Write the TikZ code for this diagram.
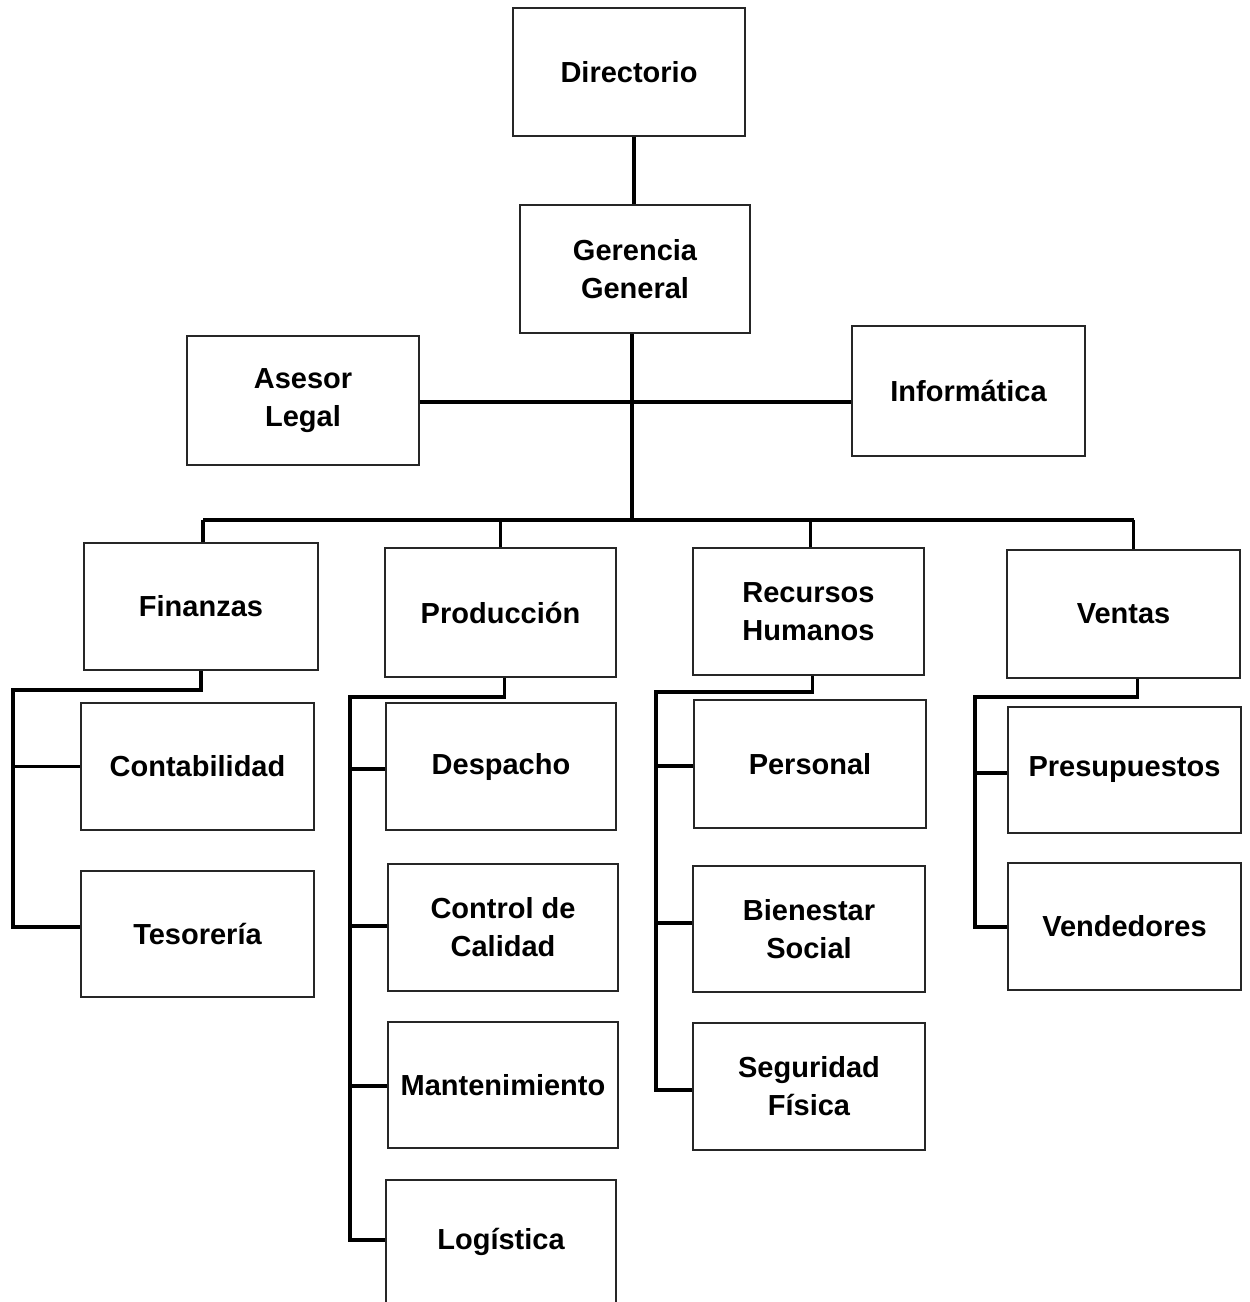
\documentclass[tikz,border=0pt]{standalone}
\usepackage{fontspec}
\setmainfont{Liberation Sans}
\begin{document}
\begin{tikzpicture}[x=1pt,y=-1pt,
  box/.style={draw=black!85, line width=1.6pt, rectangle, align=center,
    font=\fontsize{29}{38}\selectfont\bfseries, inner sep=0pt},
  link/.style={draw=black, line width=3.6pt, line cap=butt, line join=miter}]
\useasboundingbox (0,0) rectangle (1250,1302);
\clip (0,0) rectangle (1250,1302);

% top levels
\node[box, minimum width=232, minimum height=128] (dir) at (629,72) {Directorio};
\node[box, minimum width=230, minimum height=128] (ger) at (635,269) {Gerencia\\General};
\node[box, minimum width=232, minimum height=129] (ase) at (303,400.5) {Asesor\\Legal};
\node[box, minimum width=233, minimum height=130] (inf) at (968.5,391) {Informática};

% departments
\node[box, minimum width=234, minimum height=127] (fin) at (201,606.5) {Finanzas};
\node[box, minimum width=231, minimum height=129] (pro) at (500.5,612.5) {Producción};
\node[box, minimum width=231, minimum height=127] (rrh) at (808.5,611.5) {Recursos\\Humanos};
\node[box, minimum width=233, minimum height=128] (ven) at (1123.5,614) {Ventas};

% Finanzas units
\node[box, minimum width=233, minimum height=127] (con) at (197.5,766.5) {Contabilidad};
\node[box, minimum width=233, minimum height=126] (tes) at (197.5,934) {Tesorería};

% Producción units
\node[box, minimum width=230, minimum height=127] (des) at (501,766.5) {Despacho};
\node[box, minimum width=230, minimum height=127] (cal) at (503,927.5) {Control de\\Calidad};
\node[box, minimum width=230, minimum height=126] (man) at (503,1085) {Mantenimiento};
\node[box, minimum width=230, minimum height=130] (log) at (501,1245) {};
\node[font=\fontsize{29}{38}\selectfont\bfseries] (logt) at (501,1242) {Logística};

% Recursos Humanos units
\node[box, minimum width=232, minimum height=128] (per) at (810,764) {Personal};
\node[box, minimum width=232, minimum height=126] (bie) at (809,929) {Bienestar\\Social};
\node[box, minimum width=232, minimum height=127] (seg) at (809,1086.5) {Seguridad\\Física};

% Ventas units
\node[box, minimum width=233, minimum height=126] (pre) at (1124.5,770) {Presupuestos};
\node[box, minimum width=233, minimum height=127] (vnd) at (1124.5,926.5) {Vendedores};

% junction points
\coordinate (bus) at (632,520);
\coordinate (finsp) at (13,690);
\coordinate (prosp) at (350,697);
\coordinate (rrhsp) at (656,692);
\coordinate (vensp) at (975,697);

% main trunk
\draw[link] ([xshift=-1]ger.north |- dir.south) -- ([xshift=-1]ger.north);
\draw[link] ([xshift=-3]ger.south) -- ([xshift=-3]ger.south |- bus);
\draw[link] (ase.east |- 0,402) -- (inf.west |- 0,402);

% department bus and drops
\draw[link] ([xshift=2]fin.north |- bus) -- ([xshift=10]ven.north |- bus);
\draw[link] ([xshift=2]fin.north) -- ([xshift=2]fin.north |- bus);
\draw[link] (pro.north) -- (pro.north |- bus);
\draw[link] ([xshift=2]rrh.north) -- ([xshift=2]rrh.north |- bus);
\draw[link] ([xshift=10]ven.north) -- ([xshift=10]ven.north |- bus);

% Finanzas branch
\draw[link] (fin.south) -- (fin.south |- finsp) -- (finsp) -- (finsp |- 0,927) -- (tes.west |- 0,927);
\draw[link] (finsp |- con.west) -- (con.west);

% Producción branch
\draw[link] ([xshift=4]pro.south) -- ([xshift=4]pro.south |- prosp) -- (prosp) -- (prosp |- 0,1240) -- (log.west |- 0,1240);
\draw[link] (prosp |- 0,769) -- (des.west |- 0,769);
\draw[link] (prosp |- 0,926) -- (cal.west |- 0,926);
\draw[link] (prosp |- 0,1086) -- (man.west |- 0,1086);

% Recursos Humanos branch
\draw[link] ([xshift=4]rrh.south) -- ([xshift=4]rrh.south |- rrhsp) -- (rrhsp) -- (rrhsp |- 0,1090) -- (seg.west |- 0,1090);
\draw[link] (rrhsp |- 0,766) -- (per.west |- 0,766);
\draw[link] (rrhsp |- 0,923) -- (bie.west |- 0,923);

% Ventas branch
\draw[link] ([xshift=14]ven.south) -- ([xshift=14]ven.south |- vensp) -- (vensp) -- (vensp |- 0,927) -- (vnd.west |- 0,927);
\draw[link] (vensp |- 0,773) -- (pre.west |- 0,773);
\end{tikzpicture}
\end{document}
